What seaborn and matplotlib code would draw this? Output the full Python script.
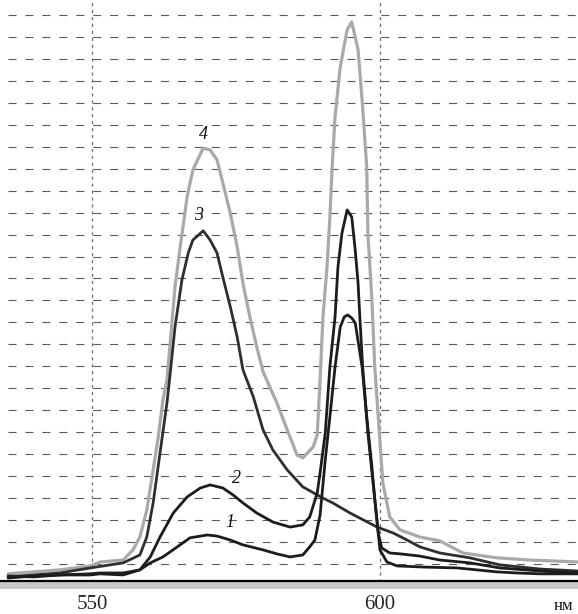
import numpy as np
import pandas as pd
import matplotlib.pyplot as plt
import seaborn as sns

# длины волн (нм) и интенсивности (в делениях сетки) для кривых 1-4
nm1 = [535.4, 539.8, 544.4, 549.7, 551.4, 555.4, 558.3, 560.1, 562.3, 564.8,
       567.0, 570.0, 571.7, 574.0, 576.2, 579.7, 582.1, 584.4, 586.6, 587.8,
       588.7, 589.6, 590.5, 591.3, 592.2, 593.1, 593.8, 594.4, 595.1, 595.7,
       596.9, 597.7, 598.6, 599.1, 599.7, 600.0, 601.2, 603.0, 607.5, 613.4,
       620.3, 623.8, 627.8, 634.4]
val1 = [0.45, 0.41, 0.50, 0.50, 0.55, 0.50, 0.73, 1.05, 1.32, 1.78,
        2.19, 2.32, 2.27, 2.09, 1.87, 1.64, 1.46, 1.32, 1.41, 1.78,
        2.09, 3.23, 5.74, 7.70, 9.97, 11.79, 12.25, 12.34, 12.20, 11.98,
        9.97, 7.70, 5.42, 3.96, 2.41, 1.64, 1.09, 0.91, 0.86, 0.82,
        0.64, 0.59, 0.55, 0.55]

nm2 = [535.4, 539.8, 544.4, 549.7, 551.4, 555.4, 558.3, 560.1, 561.8, 564.1,
       566.5, 568.8, 570.5, 572.7, 574.5, 576.2, 578.6, 581.4, 584.4, 586.6,
       587.8, 589.1, 589.6, 590.5, 591.3, 592.2, 592.7, 593.4, 594.3, 595.1,
       595.7, 596.2, 596.5, 597.0, 597.9, 598.8, 599.7, 600.3, 601.7, 603.5,
       606.9, 610.4, 615.6, 620.8, 627.8, 634.4]
val2 = [0.36, 0.45, 0.50, 0.55, 0.59, 0.59, 0.73, 1.32, 2.23, 3.32,
        4.05, 4.46, 4.60, 4.46, 4.14, 3.78, 3.32, 2.91, 2.68, 2.78,
        3.14, 4.23, 5.15, 6.97, 9.97, 12.25, 14.52, 16.07, 17.12, 16.80,
        15.30, 13.79, 12.25, 9.97, 6.97, 4.69, 2.41, 1.73, 1.50, 1.46,
        1.36, 1.18, 1.05, 0.82, 0.68, 0.59]

nm3 = [535.4, 539.8, 544.4, 549.7, 555.4, 558.3, 559.5, 560.6, 561.8, 563.0,
       563.5, 564.4, 565.6, 566.7, 567.5, 569.3, 570.5, 571.7, 572.7, 574.0,
       575.2, 576.2, 578.0, 579.7, 581.4, 583.9, 586.6, 590.1, 591.8, 594.8,
       599.5, 602.3, 604.7, 606.9, 610.4, 615.6, 620.8, 627.8, 634.4]
val3 = [0.41, 0.50, 0.59, 0.82, 1.05, 1.41, 2.23, 3.78, 6.06, 8.33,
        9.52, 11.79, 13.93, 15.16, 15.75, 16.17, 15.75, 15.16, 14.07, 12.71,
        11.34, 9.84, 8.61, 7.10, 6.19, 5.28, 4.51, 4.00, 3.78, 3.32,
        2.68, 2.41, 2.09, 1.78, 1.50, 1.28, 0.96, 0.77, 0.68]

nm4 = [535.4, 539.8, 544.4, 549.7, 551.4, 555.4, 557.1, 558.3, 559.5, 560.6,
       561.5, 562.3, 563.0, 563.5, 564.4, 565.3, 566.5, 567.5, 569.3, 570.5,
       571.7, 572.7, 574.0, 575.2, 576.2, 577.4, 578.6, 579.7, 582.1, 583.9,
       585.6, 586.6, 588.4, 589.1, 589.6, 590.1, 590.8, 591.3, 591.7, 592.2,
       593.1, 594.3, 595.1, 596.2, 596.9, 597.7, 597.9, 598.6, 599.1, 599.7,
       600.5, 601.7, 603.5, 606.9, 610.4, 614.4, 620.3, 626.0, 634.4]
val4 = [0.55, 0.64, 0.73, 0.91, 1.09, 1.18, 1.64, 2.23, 3.46, 5.28,
        6.79, 8.47, 9.38, 10.88, 13.61, 15.44, 17.71, 18.94, 19.94, 19.85,
        19.40, 18.35, 16.98, 15.44, 13.79, 12.25, 10.88, 9.75, 8.33, 7.10,
        5.96, 5.83, 6.33, 6.88, 9.38, 12.25, 14.52, 16.80, 19.08, 21.36,
        23.64, 25.32, 25.68, 24.41, 22.13, 19.08, 16.07, 13.02, 9.97, 7.70,
        4.69, 3.14, 2.55, 2.23, 2.05, 1.50, 1.28, 1.18, 1.09]

curve_names = ['1', '2', '3', '4']
curve_colors = {'1': '#1c1c1c', '2': '#1c1c1c', '3': '#2e2e2e', '4': '#a9a9a9'}
# подписи кривых: (нм, интенсивность)
label_pos = {'1': (574.0, 2.87), '2': (575.1, 4.90), '3': (568.4, 16.85), '4': (569.3, 20.54)}

xticks = [540, 550, 560, 570, 580, 590, 600, 610, 620, 630]
xlabels = ['', '550', '', '', '', '', '600', '', '', '']
vgrid = [550, 600]
hgrid = list(range(1, 27))

frames = []
for name, x, y in zip(curve_names, [nm1, nm2, nm3, nm4], [val1, val2, val3, val4]):
    frames.append(pd.DataFrame({'nm': x, 'I': y, 'curve': name}))
df = pd.concat(frames, ignore_index=True)

sns.set_style('white')
plt.rcParams['lines.scale_dashes'] = False

fig = plt.figure(figsize=(5.78, 6.14), dpi=100)
ax = fig.add_axes([0, 25 / 614, 1, 589 / 614])

# сетка
for v in hgrid:
    ax.axhline(v, xmin=0.014, color='#5a5a5a', lw=0.8, ls=(0, (5.8, 6.4)), zorder=1)
for v in vgrid:
    ax.axvline(v, color='#6a6a6a', lw=0.9, ls=(0, (2.2, 2.8)), zorder=1)

# нижняя полоса и базовая линия
ax.axhspan(-0.14, 0.18, color='#c9c9c9', lw=0, zorder=2)
ax.axhline(0.226, color='black', lw=1.6, zorder=3)

# кривые: сначала серая (4), потом тёмные
order = ['4', '3', '2', '1']
for name in order:
    sub = df[df['curve'] == name]
    sns.lineplot(data=sub, x='nm', y='I', color=curve_colors[name],
                 lw=2.3 if name == '4' else 2.0, estimator=None, sort=False,
                 ax=ax, zorder=4)

for name, (x, y) in label_pos.items():
    ax.text(x, y, name, ha='center', va='center', fontsize=13,
            style='italic', family='Liberation Serif', color='#111111', zorder=5)

ax.set_xlim(534.0, 634.4)
ax.set_ylim(-0.14, 26.68)
ax.set_xticks(xticks)
ax.set_xticklabels(xlabels, family='Liberation Serif', fontsize=15)
ax.set_yticks([])
ax.tick_params(axis='x', direction='in', length=3, width=1, color='#555555', pad=4)
ax.set_xlabel('')
ax.set_ylabel('')
for s in ax.spines.values():
    s.set_visible(False)

fig.text(0.992, 0.006, 'нм', ha='right', va='baseline', fontsize=12,
         family='Liberation Serif', color='#111111')

fig.savefig('out.png', dpi=100)
